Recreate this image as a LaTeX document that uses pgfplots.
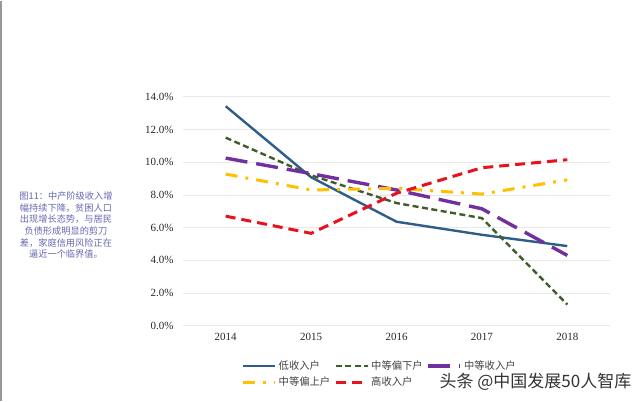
\documentclass[border=0pt]{standalone}
\usepackage{pgfplots}
\pgfplotsset{compat=1.18}
\usepackage{fontspec}
\setmainfont{Liberation Serif}
\newfontfamily\cjk{Noto Sans CJK SC}
\definecolor{cblue}{HTML}{2F5D89}
\definecolor{cgreen}{HTML}{3F5C2B}
\definecolor{cpurple}{HTML}{7030A0}
\definecolor{cyellow}{HTML}{FFC000}
\definecolor{cred}{HTML}{E8121E}
\definecolor{cnote}{HTML}{6468B0}
\begin{document}
\begin{tikzpicture}
\path (0pt,0pt) rectangle (640pt,400pt);
\draw[black!40, line width=1.5pt] (0.75pt,0pt) -- (0.75pt,400pt);
\node[align=center, font=\cjk\fontsize{9.2}{11.6}\selectfont, text=cnote, anchor=north, inner sep=0pt] at (66pt,209pt) {图11：中产阶级收入增\\幅持续下降，贫困人口\\出现增长态势，与居民\\负债形成明显的剪刀\\差，家庭信用风险正在\\逼近一个临界值。};
\begin{axis}[
  at={(183pt,75pt)}, anchor=origin,
  scale only axis, width=427pt, height=229pt,
  xmin=2013.5, xmax=2018.5, ymin=0, ymax=14,
  axis line style={draw=none},
  major tick length=0pt,
  ymajorgrids, grid style={black!9, line width=0.6pt},
  xtick={2014,2015,2016,2017,2018},
  xticklabels={2014,2015,2016,2017,2018},
  ytick={0,2,4,6,8,10,12,14},
  yticklabel={\pgfmathprintnumber[fixed,fixed zerofill,precision=1]{\tick}\%},
  /pgf/number format/assume math mode=true,
  tick label style={font=\fontsize{11}{13}\selectfont, text=black!85},
  xticklabel style={yshift=-4pt},
  yticklabel style={xshift=-6pt},
  legend columns=3,
  legend style={draw=none, fill=none, at={(axis description cs:0.13,-0.135)}, anchor=north west,
    font=\cjk\fontsize{10.3}{12}\selectfont, text=black!75,
    /tikz/every even column/.append style={column sep=2pt},
    row sep=2pt},
  legend cell align=left,
  legend image code/.code={\draw[#1] (0pt,0pt) -- (32pt,0pt);},
]
\addplot[cblue, line width=2.4pt, no marks] coordinates {(2014,13.42) (2015,9.08) (2016,6.36) (2017,5.56) (2018,4.87)};
\addlegendentry{低收入户}
\addplot[cgreen, line width=2.4pt, dash pattern=on 6pt off 3.5pt, no marks] coordinates {(2014,11.5) (2015,9.2) (2016,7.5) (2017,6.58) (2018,1.3)};
\addlegendentry{中等偏下户}
\addplot[cpurple, line width=3.4pt, dash pattern=on 22pt off 9pt, no marks] coordinates {(2014,10.25) (2015,9.3) (2016,8.3) (2017,7.15) (2018,4.3)};
\addlegendentry{中等收入户}
\addplot[cyellow, line width=3pt, dash pattern=on 12pt off 8pt on 3pt off 8pt, no marks] coordinates {(2014,9.27) (2015,8.3) (2016,8.4) (2017,8.05) (2018,8.92)};
\addlegendentry{中等偏上户}
\addplot[cred, line width=3pt, dash pattern=on 10pt off 6pt, no marks] coordinates {(2014,6.7) (2015,5.65) (2016,8.1) (2017,9.66) (2018,10.15)};
\addlegendentry{高收入户}
\end{axis}
\node[anchor=west, font=\cjk\fontsize{17}{20}\selectfont, text=black!80] at (436pt,19pt) {头条 @中国发展50人智库};
\end{tikzpicture}
\end{document}
